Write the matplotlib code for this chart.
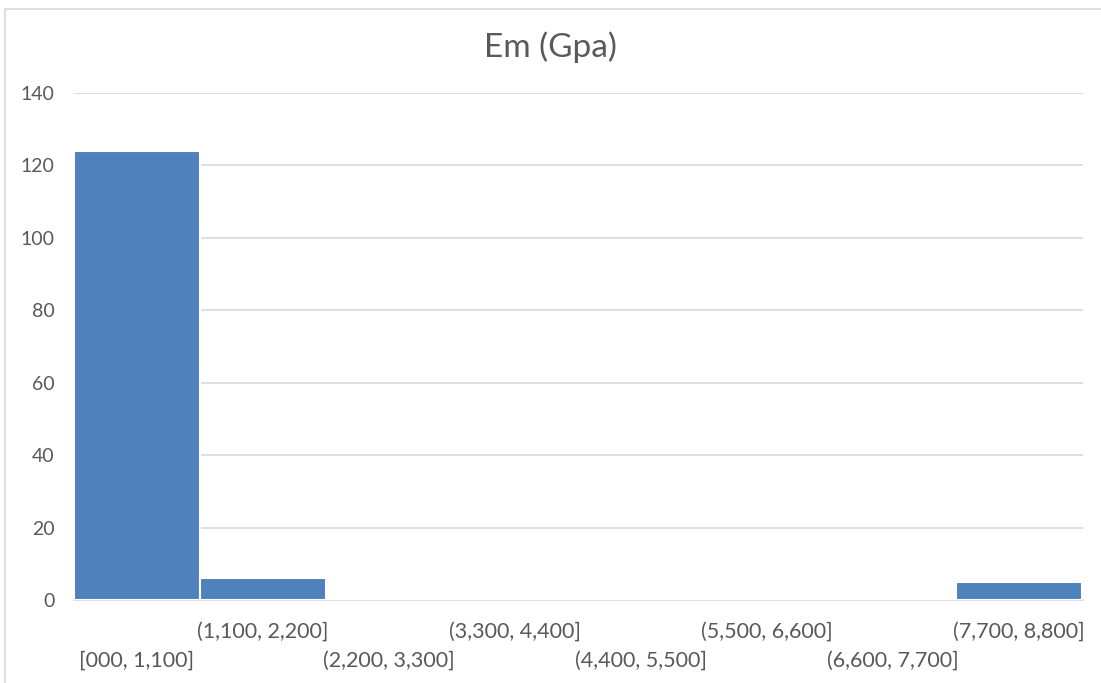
import matplotlib
matplotlib.use("Agg")
import matplotlib.pyplot as plt
from matplotlib.patches import Rectangle

# Histogram bins for Em (Gpa)
bin_labels = ["[000, 1,100]", "(1,100, 2,200]", "(2,200, 3,300]", "(3,300, 4,400]",
              "(4,400, 5,500]", "(5,500, 6,600]", "(6,600, 7,700]", "(7,700, 8,800]"]
counts = [124, 6, 0, 0, 0, 0, 0, 5]
y_ticks = [0, 20, 40, 60, 80, 100, 120, 140]
title = "Em (Gpa)"

plt.rcParams['font.family'] = ['Lato', 'DejaVu Sans']

fig = plt.figure(figsize=(11.01, 6.83), dpi=100)
fig.patch.set_facecolor("white")

# light chart-area frame
fig.patches.append(Rectangle((5 / 1101, -0.05), 1.1, (683 - 9) / 683 + 0.05,
                             transform=fig.transFigure, fill=False,
                             edgecolor="#D9D9D9", linewidth=1.2))

ax = fig.add_axes([74 / 1101, (683 - 600) / 683, (1083 - 74) / 1101, (600 - 93) / 683])

x = list(range(len(counts)))
ax.bar(x, counts, width=1.0, color="#4F81BD", edgecolor="white", linewidth=1.5, zorder=3)

ax.set_xlim(-0.5, len(counts) - 0.5 + 0.01)
ax.set_ylim(0, 140)
ax.set_yticks(y_ticks)
ax.set_yticklabels([str(v) for v in y_ticks], fontsize=14, color="#595959")
ax.grid(axis="y", color="#D9D9D9", linewidth=1.2, zorder=0)
ax.set_axisbelow(True)

for side in ["top", "right", "left"]:
    ax.spines[side].set_visible(False)
ax.spines["bottom"].set_color("#D9D9D9")
ax.spines["bottom"].set_linewidth(1.2)
ax.tick_params(axis="both", length=0)
ax.tick_params(axis="y", pad=14)

# staggered category labels
ax.set_xticks(x)
ax.set_xticklabels([])
for i, lab in enumerate(bin_labels):
    y_off = -32 if i % 2 == 1 else -61
    ax.annotate(lab, xy=(i, 0), xycoords="data", xytext=(0, y_off),
                textcoords="offset pixels",
                ha="center", va="center", fontsize=15.5, color="#595959",
                annotation_clip=False)

fig.text(550 / 1101, 1 - 47 / 683, title, ha="center", va="center",
         fontsize=24, color="#595959")

fig.savefig("out.png", dpi=100, facecolor="white")
